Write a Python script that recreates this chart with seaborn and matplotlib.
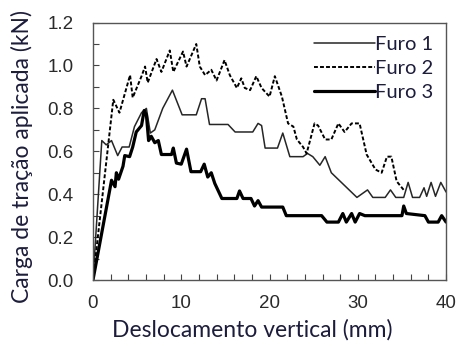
import matplotlib
matplotlib.use("Agg")
import matplotlib.pyplot as plt
import seaborn as sns
import pandas as pd
from matplotlib.ticker import MultipleLocator

# ---- data ----
furo1_x = [0, 1.0, 1.5, 2.1, 2.8, 3.3, 4.1, 4.7, 5.5, 6.05, 6.5, 7.0, 7.9, 9.0, 10.1, 11.7,
           12.3, 12.7, 13.2, 15.3, 16.1, 18.1, 18.7, 19.1, 19.5, 20.9, 21.5, 22.3, 23.8, 24.3,
           24.9, 25.7, 26.3, 27.0, 29.9, 31.1, 31.7, 33.1, 33.7, 34.3, 35.2, 35.7, 36.2, 37.0,
           37.5, 37.8, 38.3, 38.8, 39.4, 40.0]
furo1_y = [0, 0.65, 0.63, 0.65, 0.58, 0.62, 0.62, 0.715, 0.78, 0.80, 0.685, 0.70, 0.80, 0.885,
           0.77, 0.77, 0.845, 0.845, 0.725, 0.725, 0.69, 0.69, 0.73, 0.72, 0.615, 0.615, 0.685,
           0.575, 0.575, 0.59, 0.575, 0.535, 0.575, 0.50, 0.385, 0.42, 0.385, 0.385, 0.42, 0.385,
           0.385, 0.455, 0.385, 0.385, 0.43, 0.39, 0.455, 0.39, 0.455, 0.41]

furo2_x = [0, 2.3, 3.0, 4.2, 4.5, 5.5, 5.9, 6.2, 7.2, 7.75, 8.7, 9.1, 10.2, 10.6, 11.7, 12.1,
           12.7, 13.4, 14.0, 14.9, 15.5, 16.3, 16.8, 17.2, 17.8, 18.5, 19.1, 20.0, 20.6, 21.4,
           22.1, 22.7, 23.1, 23.8, 24.2, 25.1, 25.5, 26.3, 27.0, 27.8, 28.5, 29.3, 30.2, 31.0,
           32.0, 32.7, 33.3, 33.8, 34.4, 35.3]
furo2_y = [0, 0.84, 0.78, 0.955, 0.85, 0.95, 0.995, 0.92, 1.03, 0.97, 1.07, 0.97, 1.065, 0.995,
           1.10, 0.995, 0.955, 0.98, 0.93, 1.025, 0.955, 0.895, 0.94, 0.895, 0.885, 0.95, 0.895,
           0.855, 0.95, 0.855, 0.73, 0.715, 0.655, 0.62, 0.59, 0.73, 0.72, 0.655, 0.655, 0.73,
           0.69, 0.73, 0.73, 0.585, 0.515, 0.50, 0.575, 0.575, 0.46, 0.415]

furo3_x = [0, 1.9, 2.1, 2.5, 2.65, 2.9, 3.4, 3.6, 4.15, 4.5, 4.9, 5.5, 5.8, 6.05, 6.3, 6.6,
           7.0, 7.4, 7.75, 8.9, 9.1, 9.45, 10.0, 10.6, 11.1, 12.2, 12.6, 13.0, 13.4, 13.8, 14.6,
           16.3, 16.6, 17.0, 17.9, 18.3, 18.7, 19.1, 21.5, 21.9, 25.9, 26.5, 27.8, 28.3, 28.7,
           29.3, 29.7, 30.2, 30.8, 35.0, 35.2, 35.5, 37.6, 38.0, 39.1, 39.5, 40.0]
furo3_y = [0, 0.42, 0.465, 0.435, 0.50, 0.47, 0.53, 0.58, 0.575, 0.62, 0.69, 0.72, 0.79, 0.77,
           0.65, 0.67, 0.64, 0.65, 0.585, 0.585, 0.615, 0.545, 0.54, 0.61, 0.505, 0.505, 0.54,
           0.48, 0.50, 0.45, 0.38, 0.38, 0.415, 0.38, 0.38, 0.345, 0.37, 0.34, 0.34, 0.30, 0.30,
           0.27, 0.27, 0.31, 0.27, 0.31, 0.27, 0.31, 0.30, 0.30, 0.345, 0.31, 0.30, 0.27, 0.27,
           0.30, 0.27]

series_names = ["Furo 1", "Furo 2", "Furo 3"]
x_ticks = [0, 10, 20, 30, 40]
y_ticks = [0.0, 0.2, 0.4, 0.6, 0.8, 1.0, 1.2]

sns.set_style("white")
plt.rcParams["font.family"] = ["Liberation Sans", "DejaVu Sans"]

fig = plt.figure(figsize=(4.58, 3.47), dpi=100)
ax = fig.add_axes([0.203, 0.193, 0.771, 0.742])

df1 = pd.DataFrame({"x": furo1_x, "y": furo1_y})
df2 = pd.DataFrame({"x": furo2_x, "y": furo2_y})
df3 = pd.DataFrame({"x": furo3_x, "y": furo3_y})

sns.lineplot(data=df1, x="x", y="y", ax=ax, color="#262626", linewidth=1.1,
             estimator=None, sort=False, label=series_names[0])
sns.lineplot(data=df2, x="x", y="y", ax=ax, color="black", linewidth=1.4,
             linestyle=(0, (2.0, 1.1)), estimator=None, sort=False, label=series_names[1])
sns.lineplot(data=df3, x="x", y="y", ax=ax, color="black", linewidth=2.3,
             estimator=None, sort=False, label=series_names[2])

ax.set_xlim(0, 40)
ax.set_ylim(0, 1.2)
ax.set_xticks(x_ticks)
ax.set_yticks(y_ticks)
ax.set_xticklabels([str(t) for t in x_ticks])
ax.set_yticklabels([f"{t:.1f}" for t in y_ticks])
ax.xaxis.set_minor_locator(MultipleLocator(2))
ax.yaxis.set_minor_locator(MultipleLocator(0.1))
ax.tick_params(axis="both", which="both", direction="in", length=4, width=0.8,
               color="#444444", labelsize=13.5, labelcolor="#2a2a2a",
               bottom=True, left=True, top=False, right=False)
ax.tick_params(axis="x", which="major", pad=11)
ax.tick_params(axis="y", which="major", pad=14)

for sp in ax.spines.values():
    sp.set_color("#555555")
    sp.set_linewidth(1.0)

lab_font = dict(family=["Lato", "DejaVu Sans"], size=16.5, color="#1c1c3c")
ax.set_xlabel("Deslocamento vertical (mm)", **lab_font)
ax.set_ylabel("Carga de tração aplicada (kN)", **lab_font)
ax.xaxis.set_label_coords(0.45, -0.15)
ax.yaxis.set_label_coords(-0.17, 0.478)

leg = ax.legend(loc="upper right", frameon=False, handlelength=3.0, handletextpad=0.0,
                labelspacing=0.35, borderaxespad=0.25,
                prop={"family": ["Lato", "DejaVu Sans"], "size": 14.5})
for t in leg.get_texts():
    t.set_color("#1c1c3c")

fig.savefig("out.png", dpi=100)
